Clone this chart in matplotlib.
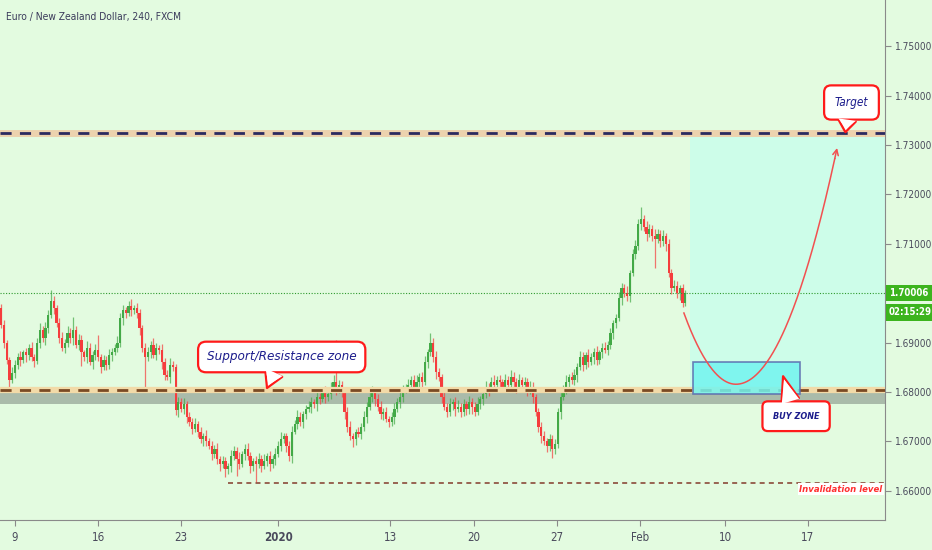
import numpy as np
import matplotlib
matplotlib.use("Agg")
import matplotlib.pyplot as plt
from matplotlib import font_manager
from matplotlib.transforms import blended_transform_factory

# ---- data (prices as pips above 1.68000, 4h candles) ----
BASE = 1.68
OPEN0 = 170

close_pips = [
    135, 100, 65, 25, 38,
    55, 70, 65, 80, 75, 90, 70, 62,
    100, 125, 110,
    130, 155, 185, 170,
    140, 110, 90,
    100, 120, 110, 125, 95, 105,
    80, 70, 90, 60, 75, 85, 70, 50, 65, 55, 75,
    80, 90, 100,
    150, 165, 160, 175, 165, 170, 160,
    130, 90, 70,
    80, 95, 75, 90, 85,
    60, 35, 30, 55, 50,
    -36,
    -20, -35, -25,
    -50, -60, -75, -65, -80, -95, -90,
    -100, -110, -125, -115, -135, -145, -140, -155,
    -150, -130, -120, -135, -145, -125, -115, -130, -150, -140,
    -145, -135, -150, -140, -130, -145, -135, -125, -110,
    -95, -90, -110, -130,
    -80, -65, -50, -60, -45,
    -35, -30, -20, -25, -10, -15, 0, -10, -5,
    10, 20, 5, 15,
    0, -40, -70,
    -90, -95, -80, -85, -70,
    -50, -30, -10, 5,
    -15, -30, -45, -40, -55, -60, -50,
    -35, -20, -10, 5, 10,
    15, 25, 10, 20, 30, 20,
    60, 80, 100,
    70, 40, 30,
    -10, -30, -40, -25,
    -20, -35, -30, -40, -25, -35, -20, -30, -40, -25, -15,
    -5, 10, 5, 20, 15, 25,
    20, 10, 25, 15, 30, 20, 10, 25, 15, 20, 5, 10, -10,
    -40, -70, -90,
    -100, -110, -95, -115, -105,
    -40, -10, 5,
    20, 30, 25, 35,
    50, 70, 55, 75, 60, 70, 80, 65,
    80, 90, 85, 95,
    120, 140, 150,
    190, 210, 200, 195,
    240, 280, 295,
    340, 350, 335,
    320, 330, 315,
    310, 320, 305, 315, 300,
    240, 210,
    215, 200, 210,
    180,
    200.6,
]

upper_wick = [
    8, 10, 6, 5, 12, 10, 8, 14, 6, 10,
    8, 12, 6, 10, 14, 8, 12, 10, 21, 9,
    6, 10, 12, 8, 14, 10, 26, 8, 12, 10,
    6, 14, 10, 8, 12, 30, 6, 10, 8, 12,
    10, 8, 14, 10, 12, 8, 10, 14, 6, 10,
    8, 6, 10, 12, 8, 14, 10, 6, 12, 8,
    10, 14, 8, 6, 10, 8, 12, 6, 10, 8,
    12, 6, 10, 8, 14, 6, 10, 8, 12, 6,
    10, 8, 6, 12, 10, 8, 14, 6, 10, 12,
    8, 6, 10, 12, 8, 14, 6, 10, 8, 12,
    10, 14, 8, 6, 10, 12, 8, 14, 10, 6,
    8, 12, 10, 6, 14, 8, 10, 12, 6, 10,
    14, 85, 10, 8, 6, 10, 12, 8, 6, 10,
    8, 12, 10, 14, 8, 6, 10, 12, 8, 10,
    6, 10, 12, 8, 14, 10, 6, 12, 8, 10,
    14, 8, 10, 12, 8, 19, 10, 12, 8, 6,
    10, 8, 12, 6, 10, 14, 8, 10, 6, 12,
    8, 10, 14, 6, 10, 12, 8, 10, 14, 8,
    10, 6, 12, 8, 14, 10, 8, 12, 6, 10,
    8, 12, 10, 6, 8, 10, 12, 6, 10, 8,
    10, 8, 12, 10, 14, 6, 10, 12, 8, 14,
    10, 6, 12, 8, 10, 14, 6, 10, 12, 8,
    10, 6, 8, 12, 10, 8, 14, 6, 10, 12,
    10, 24, 8, 12, 10, 8, 14, 10, 8, 12,
    6, 10, 8, 12, 10, 6, 8, 5,
]

lower_wick = [
    6, 10, 8, 17, 6, 10, 8, 12, 6, 14,
    10, 8, 12, 6, 10, 8, 14, 10, 6, 12,
    8, 10, 6, 12, 8, 10, 14, 6, 10, 28,
    8, 12, 6, 14, 10, 8, 12, 6, 10, 8,
    12, 6, 10, 8, 14, 10, 6, 12, 8, 10,
    14, 10, 66, 8, 12, 6, 10, 8, 14, 10,
    6, 12, 8, 10, 14, 6, 10, 12, 8, 10,
    6, 12, 8, 14, 10, 6, 12, 8, 10, 14,
    8, 17, 10, 12, 8, 35, 10, 6, 12, 8,
    14, 10, 37, 8, 12, 6, 10, 14, 8, 12,
    6, 10, 8, 12, 10, 14, 6, 10, 8, 12,
    10, 6, 12, 8, 14, 10, 6, 12, 8, 10,
    6, 12, 8, 10, 14, 10, 8, 16, 12, 6,
    10, 8, 12, 6, 10, 14, 8, 10, 12, 6,
    10, 8, 14, 6, 12, 10, 8, 6, 12, 10,
    8, 14, 10, 6, 12, 8, 10, 14, 8, 12,
    6, 10, 8, 12, 14, 6, 10, 8, 12, 10,
    14, 8, 6, 10, 12, 8, 14, 6, 10, 8,
    12, 6, 10, 14, 8, 10, 12, 6, 10, 8,
    14, 10, 12, 8, 10, 14, 8, 12, 10, 18,
    10, 8, 14, 6, 10, 12, 8, 10, 14, 6,
    12, 8, 10, 6, 14, 10, 8, 12, 6, 10,
    8, 12, 10, 6, 14, 8, 10, 12, 6, 10,
    8, 12, 10, 14, 6, 10, 58, 8, 12, 10,
    14, 8, 12, 6, 10, 14, 8, 6,
]

# x-axis labels (candle index) and price ticks
date_pos = [5, 35, 65, 100, 140.4, 170.8, 200.7, 230.7, 261.4, 291.3]
date_lbl = ["9", "16", "23", "2020", "13", "20", "27", "Feb", "10", "17"]
price_ticks = [1.66, 1.67, 1.68, 1.69, 1.71, 1.72, 1.73, 1.74, 1.75]

last_price = 1.70006
target = 1.7324
support = 1.6804
support_top = 1.6808
zone_lo, zone_hi = 1.6776, 1.6798
invalid = 1.66159
buy_lo, buy_hi = 1.6796, 1.68607
buy_x0, buy_x1 = 249.8, 288.5
proj_x0 = 248.7
invalid_x0 = 82

# ---- fonts: condensed DejaVu if present, else Roboto ----
fm = font_manager.fontManager
has_cond = any(f.name == "DejaVu Sans" and str(f.stretch) == "condensed"
               for f in fm.ttflist)
if has_cond:
    FONT = dict(family="DejaVu Sans", stretch="condensed")
    K = 1.0
else:
    FONT = dict(family="Roboto")
    K = 0.93

BG = "#e3fbe0"
GREEN = "#43a947"
RED = "#f53d3d"

c = np.array(close_pips, dtype=float)
o = np.concatenate([[OPEN0], c[:-1]])
hi = np.maximum(o, c) + np.array(upper_wick)
lo = np.minimum(o, c) - np.array(lower_wick)
x = np.arange(len(c))
to_price = lambda p: BASE + np.asarray(p) / 10000.0

fig = plt.figure(figsize=(9.32, 5.5), dpi=100, facecolor=BG)
ax = fig.add_axes([0, 30 / 550, 885 / 932, 520 / 550], facecolor=BG)
ax.set_xlim(-0.4, 319.1)
ax.set_ylim(1.65409, 1.75935)

# projection area and zones
ax.fill_between([proj_x0, 330], support, target, color="#cdfde9", zorder=0.5, lw=0)
ax.axhspan(zone_lo, zone_hi, color="#aabbaa", zorder=1, lw=0)

# candles
up = c >= o
cols = np.where(up, GREEN, RED)
ax.vlines(x, to_price(lo), to_price(hi), colors=cols, lw=0.9, alpha=0.7, zorder=3)
body = np.maximum(np.abs(c - o), 2)
ax.bar(x, to_price(body) - BASE, bottom=to_price(np.minimum(o, c)), width=0.8,
       color=cols, lw=0, zorder=3)

# levels
ax.axhline(last_price, color="#2e9a2e", lw=0.8, ls=(0, (1, 1.5)), zorder=4)
ax.axhline(target, color="#ecd2ae", lw=5, zorder=4)
ax.axhline(target, color="#2b2a60", lw=2, ls=(0, (4, 3)), zorder=4)
ax.axhline(support_top, color="#8c8cd6", lw=1, zorder=4)
ax.axhline(support, color="#f2daa8", lw=4.5, zorder=4)
ax.axhline(support, color="#7a4a24", lw=2, ls=(0, (4, 3)), zorder=4)
ax.plot([invalid_x0, 330], [invalid, invalid], color="#8b4a3a", lw=1.2,
        ls=(0, (3, 2.5)), zorder=4)

# buy zone
ax.add_patch(plt.Rectangle((buy_x0, buy_lo), buy_x1 - buy_x0, buy_hi - buy_lo,
                           fc="#72f4ef", ec="#5a6aae", lw=1.2, alpha=0.85, zorder=5))

# projected path
xm, ym = 265.3, 1.68157
xs = np.linspace(246.5, 301.8, 200)
a = np.where(xs < xm, 4.08e-5, 3.59e-5)
ys = ym + a * (xs - xm) ** 2
ax.plot(xs[:-3], ys[:-3], color="#f25050", lw=1.1, zorder=6)
ax.annotate("", xy=(xs[-1], ys[-1]), xytext=(xs[-4], ys[-4]),
            arrowprops=dict(arrowstyle="->", color="#f25050", lw=1.1,
                            mutation_scale=10, shrinkA=0, shrinkB=0), zorder=6)


# callouts: red-bordered bubble with a pointer
def callout(text, tip, center, size, rel, pad, tw, bold=False):
    style = f"wedge,tail_width={tw},shrink_factor=0.5"
    kw = dict(xy=tip, xytext=center, ha="center", va="center", fontsize=size * K,
              style="italic", fontweight="bold" if bold else "normal", **FONT)
    box = f"round,pad={pad},rounding_size=0.6"
    ax.annotate(text, color="#1c1c8c",
                bbox=dict(boxstyle=box, fc="white", ec="#ff1a1a", lw=1.6),
                arrowprops=dict(arrowstyle=style, fc="white", ec="#ff1a1a", lw=1.6,
                                relpos=rel, shrinkA=0, shrinkB=0),
                zorder=7, **kw)
    # white wedge on top to open the border where the pointer joins
    ax.annotate(text, color="none",
                bbox=dict(boxstyle=box, fc="none", ec="none"),
                arrowprops=dict(arrowstyle=style, fc="white", ec="none", lw=0,
                                relpos=rel, shrinkA=0, shrinkB=2.5),
                zorder=7.5, **kw)


callout("Support/Resistance zone", (96.0, 1.68081), (101.3, 1.68709), 9.6,
        (0.48, 0.12), 0.66, 1.4)
callout("Target", (304.8, 1.7326), (307.0, 1.7386), 8.5, (0.42, 0.12), 0.9, 1.5)
callout("BUY ZONE", (282.3, 1.6832), (287.0, 1.6751), 6.5, (0.45, 0.88), 1.15, 2.0,
        bold=True)

blend = blended_transform_factory(ax.transAxes, ax.transData)
ax.text(0.997, 1.66036, "Invalidation level", transform=blend, ha="right",
        va="center", fontsize=6.8 * K, color="#ff3030", style="italic",
        fontweight="bold", bbox=dict(fc="white", ec="none", pad=1.2), zorder=7,
        **FONT)

# axes styling
for s in ["top", "left"]:
    ax.spines[s].set_visible(False)
ax.spines["right"].set_color("#8a8a8a")
ax.spines["bottom"].set_color("#8a8a8a")
ax.yaxis.tick_right()
ax.set_yticks(price_ticks)
ax.set_yticklabels([f"{p:.5f}" for p in price_ticks])
ax.tick_params(axis="y", colors="#8a8a8a", labelcolor="#4a4a5c", length=4, pad=3)
ax.set_xticks(date_pos)
ax.set_xticklabels(date_lbl)
ax.tick_params(axis="x", colors="#8a8a8a", labelcolor="#4a4a5c", length=4, pad=4)
for t in ax.get_yticklabels():
    t.set_fontproperties(font_manager.FontProperties(size=7.2 * K, **FONT))
for t in ax.get_xticklabels():
    t.set_fontproperties(font_manager.FontProperties(size=8.3 * K, **FONT))
    if t.get_text() == "2020":
        t.set_fontweight("bold")

# last price tags
tag = dict(boxstyle="square,pad=0.35", fc="#3cb41e", ec="none")
ax.text(1.0045, last_price, "1.70006", transform=blend, ha="left", va="center",
        fontsize=6.9 * K, color="white", fontweight="bold", bbox=tag,
        clip_on=False, zorder=8, **FONT)
ax.annotate("02:15:29", xy=(1.0045, last_price), xycoords=blend,
            xytext=(0, -14), textcoords="offset points", ha="left", va="center",
            fontsize=6.9 * K, color="white", fontweight="bold", bbox=tag,
            annotation_clip=False, zorder=8, **FONT)

fig.text(6 / 932, 1 - 17 / 550, "Euro / New Zealand Dollar, 240, FXCM",
         fontsize=7.4 * K, color="#3a3a5a", va="center", **FONT)

fig.savefig("out.png", dpi=100, facecolor=BG)
